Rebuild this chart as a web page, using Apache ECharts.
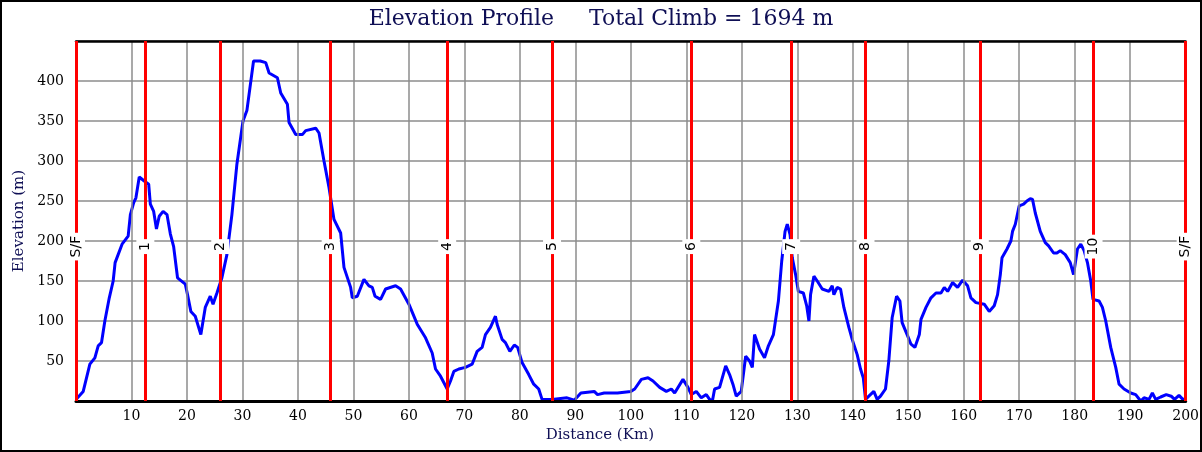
<!DOCTYPE html>
<html>
<head>
<meta charset="utf-8">
<script src="https://cdn.jsdelivr.net/npm/echarts@6/dist/echarts.min.js"></script>
<style>
html,body{margin:0;padding:0;background:#fff;}
#chart{width:1202px;height:452px;}
</style>
</head>
<body>
<div id="chart"></div>
<script>
// ---- data ----
const distanceKm = [0,1.3,2.5,3.4,4.0,4.6,5.2,6.0,6.7,7.05,8.3,9.4,9.8,10.4,10.8,11.4,12.3,13.1,13.4,14.0,14.5,15.0,15.7,16.4,17.0,17.6,18.3,19.7,20.1,20.7,21.5,22.5,23.3,24.2,24.7,25.4,26.3,27.2,28.1,29.0,30.1,30.8,32.0,33.2,34.2,34.8,36.3,36.9,38.1,38.4,39.6,40.8,41.4,43.2,43.8,44.7,45.6,46.5,47.7,48.3,49.5,49.8,50.7,51.9,52.8,53.4,53.9,54.9,55.8,57.6,58.5,60.0,61.5,63.0,64.2,64.8,65.7,66.9,67.5,68.1,69.0,70.2,71.4,72.3,73.2,73.8,74.7,75.6,75.9,76.8,77.4,78.2,79.0,79.6,80.4,81.6,82.5,83.4,84.0,85.8,88.5,89.8,91.0,93.4,94.0,95.2,97.6,100.0,100.7,101.9,103.1,104.0,105.2,106.4,107.3,107.9,109.4,110.3,110.9,111.8,112.7,113.6,114.2,114.7,115.1,116.0,117.1,117.8,118.4,119.0,119.9,120.7,121.4,121.9,122.3,122.6,123.2,124.1,124.8,125.7,126.6,127.2,127.8,128.2,128.7,129.1,129.7,130.2,131.1,131.7,132.1,132.4,133.0,133.6,134.5,135.7,136.3,136.6,137.2,137.8,138.4,139.3,139.9,140.8,141.4,141.9,142.3,142.9,143.8,144.4,145.0,145.9,146.5,147.1,147.9,148.5,148.9,149.8,150.5,151.2,152.0,152.3,153.2,154.1,155.0,155.9,156.5,157.1,158.0,158.9,159.8,160.7,161.3,162.2,163.7,164.6,165.5,166.1,166.6,166.9,167.8,168.5,168.8,169.3,170.0,170.8,171.4,172.0,172.4,172.9,173.8,174.7,175.3,176.2,176.8,177.4,178.3,179.2,179.8,180.5,181.1,181.7,182.3,182.9,183.3,184.4,185.0,185.6,186.5,187.4,188.0,188.9,190.1,191.0,191.9,192.5,193.4,194.0,194.6,195.5,196.5,197.4,198.0,198.8,199.5,200];
const elevationM = [2,12,46,54,69,73,100,129,150,173,196,206,233,248,254,280,275,271,246,237,215,231,237,233,209,193,154,146,133,112,106,83,117,131,121,135,154,183,233,296,350,363,425,425,423,410,404,385,371,348,333,333,338,341,335,300,267,227,210,167,142,129,131,152,144,142,131,127,140,144,140,121,96,79,60,40,31,15,25,37,40,42,46,62,67,83,92,106,96,77,73,62,70,67,48,33,21,15,2,2,4,1,10,12,8,10,10,12,15,27,29,25,17,12,15,10,27,17,8,12,4,8,2,0,15,17,44,33,21,6,12,56,50,42,83,85,65,54,69,83,125,175,212,221,208,179,158,137,135,119,100,133,156,150,140,137,144,133,142,140,117,92,77,58,40,29,2,6,12,2,6,15,50,104,131,125,98,83,71,67,83,102,117,129,135,135,142,137,148,142,151,144,129,123,121,112,119,133,158,179,190,200,212,221,244,246,250,253,252,235,212,198,194,185,185,188,183,173,158,190,196,188,173,150,127,125,117,100,67,42,21,15,10,8,0,4,2,10,2,5,8,6,2,7,2,3];
const markerKm = [0,12.5,26.0,45.9,66.9,85.8,110.9,128.9,142.3,162.9,183.4,200];
const markerLabels = ['S/F','1','2','3','4','5','6','7','8','9','10','S/F'];
const markerLabelElev = 193;
const titleText = 'Elevation Profile     Total Climb = 1694 m';
const xAxisName = 'Distance (Km)';
const yAxisName = 'Elevation (m)';

// ---- chart ----
const navy = '#0f0f55';
const serif = '"DejaVu Serif", serif';
const chart = echarts.init(document.getElementById('chart'), null, {renderer:'canvas'});
const profile = distanceKm.map((d,i)=>[d, elevationM[i]]);
const markerPts = markerKm.map((d,i)=>({value:[d, markerLabelElev], name: markerLabels[i]}));

chart.setOption({
  animation:false,
  backgroundColor:'#fff',
  title:{
    text:titleText, left:'center', top:8, padding:0,
    textStyle:{fontFamily:serif, fontSize:22, fontWeight:'normal', color:navy}
  },
  graphic:[{type:'rect', shape:{x:1,y:1,width:1200,height:450}, style:{fill:'none', stroke:'#000', lineWidth:2}, z:100}],
  grid:{left:76, right:16, top:41, bottom:51, containLabel:false},
  xAxis:[{
    type:'value', min:0, max:200, interval:10,
    name:xAxisName, nameLocation:'middle', nameGap:23,
    nameTextStyle:{fontFamily:serif, fontSize:15, color:navy, padding:[0,62,0,0]},
    axisLine:{show:true, onZero:false, lineStyle:{color:'#000', width:3}},
    axisTick:{show:false},
    axisLabel:{fontFamily:serif, fontSize:14, color:'#000', margin:8, formatter:v=> v===0?'':String(v)},
    splitLine:{show:true, lineStyle:{color:'#8c8c8c', width:1.5}},
    z:4
  },{
    type:'value', min:0, max:200, position:'top',
    axisLine:{show:true, onZero:false, lineStyle:{color:'#000', width:2.5}},
    axisTick:{show:false}, axisLabel:{show:false}, splitLine:{show:false},
    z:4
  }],
  yAxis:{
    type:'value', min:0, max:450, interval:50,
    name:yAxisName, nameLocation:'middle', nameGap:44, nameRotate:90,
    nameTextStyle:{fontFamily:serif, fontSize:15, color:navy, padding:[0,0,0,0]},
    axisLine:{show:false}, axisTick:{show:false},
    axisLabel:{fontFamily:serif, fontSize:14, color:'#000', margin:12, formatter:v=> (v===0||v===450)?'':String(v)},
    splitLine:{show:true, lineStyle:{color:'#8c8c8c', width:1.5}}
  },
  series:[
    {
      type:'line', data:[], z:2, silent:true,
      markLine:{
        silent:true, symbol:'none', label:{show:false},
        lineStyle:{color:'#ff0000', width:3, type:'solid', opacity:1},
        emphasis:{disabled:true},
        data: markerKm.map(d=>({xAxis:d}))
      }
    },
    {
      type:'line', data:profile, showSymbol:false, z:3,
      lineStyle:{color:'#0000ff', width:3}, itemStyle:{color:'#0000ff'}
    },
    {
      type:'scatter', data:markerPts, symbolSize:0, z:5, silent:true,
      itemStyle:{opacity:1},
      label:{
        show:true, position:'inside', rotate:90, formatter:p=>p.name,
        fontFamily:'"DejaVu Sans", sans-serif', fontSize:14, color:'#000', opacity:1,
        textBorderWidth:0,
        backgroundColor:'#fff', padding:[2,3]
      }
    }
  ]
});
</script>
</body>
</html>
